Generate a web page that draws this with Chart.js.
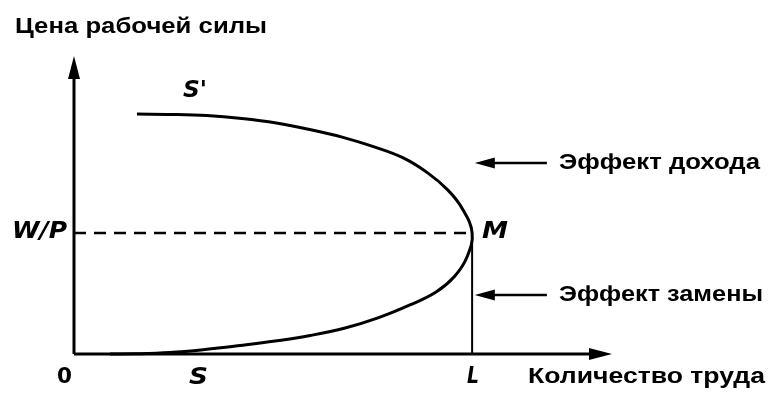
<!DOCTYPE html>
<html>
<head>
<meta charset="utf-8">
<script src="https://cdn.jsdelivr.net/npm/chart.js@4"></script>
<style>
  html, body { margin: 0; padding: 0; background: #fff; }
  #wrap { width: 769px; height: 396px; }
</style>
</head>
<body>
<div id="wrap"><canvas id="chart" width="769" height="396"></canvas></div>
<script>
// backward bending supply curve, S' (top) round through M down to S
var supplyX = [11.7, 18.2, 24.7, 31.2, 37.6, 43.9, 50.0, 55.8, 61.2, 65.8, 69.5, 72.1, 74.0,
               73.05, 70.8, 67.3, 62.45, 56.5, 50.4, 43.9, 37.4, 30.9, 24.35, 17.8, 11.3, 6.7];
var supplyY = [80.5, 80.4, 80.0, 79.0, 77.5, 75.3, 72.7, 69.5, 65.8, 60.7, 55.0, 49.0, 40.6,
               32.55, 26.2, 20.8, 16.45, 12.1, 8.7, 6.2, 4.35, 2.85, 1.5, 0.5, 0.07, 0];

// point M and the wage level W/P
var pointM = [74.0, 40.6];
// the two effect arrows: [tail x, tip x, y]
var incomeArrow = [87.9, 74.5, 64.1];
var substArrow = [87.9, 74.5, 19.8];

var axisMax = 100;

function pts(xs, ys) {
  var out = [];
  for (var i = 0; i < xs.length; i++) out.push({x: xs[i], y: ys[i]});
  return out;
}

function line(data, w, dash) {
  return {
    data: data,
    showLine: true,
    borderColor: "#000",
    borderWidth: w,
    borderDash: dash || [],
    pointRadius: 0,
    fill: false,
    clip: false
  };
}

// text squeezed/stretched to the width it has in the picture
function fitText(ctx, text, x, y, width, font) {
  ctx.save();
  ctx.font = font;
  ctx.textBaseline = "alphabetic";
  ctx.textAlign = "left";
  var w = ctx.measureText(text).width;
  ctx.translate(x, y);
  ctx.scale(width / w, 1);
  ctx.fillText(text, 0, 0);
  ctx.restore();
}

function head(ctx, tx, ty, dx, dy, len, half) {
  var bx = tx - dx * len, by = ty - dy * len;
  ctx.beginPath();
  ctx.moveTo(tx, ty);
  ctx.lineTo(bx - dy * half, by + dx * half);
  ctx.lineTo(bx + dy * half, by - dx * half);
  ctx.closePath();
  ctx.fill();
}

var labels = {
  id: "labels",
  afterDatasetsDraw: function(chart) {
    var ctx = chart.ctx;
    var xs = chart.scales.x, ys = chart.scales.y;
    ctx.fillStyle = "#000";

    // axis arrow heads
    head(ctx, xs.getPixelForValue(0), ys.getPixelForValue(axisMax), 0, -1, 23, 6);
    head(ctx, xs.getPixelForValue(axisMax), ys.getPixelForValue(0), 1, 0, 23, 6);
    // effect arrow heads
    head(ctx, xs.getPixelForValue(incomeArrow[1]), ys.getPixelForValue(incomeArrow[2]), -1, 0, 20, 5.5);
    head(ctx, xs.getPixelForValue(substArrow[1]), ys.getPixelForValue(substArrow[2]), -1, 0, 20, 5.5);

    var bold = "bold 22px 'Liberation Sans', Arial, sans-serif";
    var ital = "italic bold 23px 'DejaVu Sans', sans-serif";

    fitText(ctx, "Цена рабочей силы", 15, 33, 252, bold);
    fitText(ctx, "Количество труда", 528, 383, 237, bold);
    fitText(ctx, "Эффект дохода", 559, ys.getPixelForValue(incomeArrow[2]) + 6, 201, bold);
    fitText(ctx, "Эффект замены", 559, ys.getPixelForValue(substArrow[2]) + 6, 204, bold);

    var mx = xs.getPixelForValue(pointM[0]);
    var my = ys.getPixelForValue(pointM[1]);
    var y0 = ys.getPixelForValue(0);
    fitText(ctx, "W/P", 12, my + 5, 55, ital);
    fitText(ctx, "M", mx + 10, my + 5, 26, ital);
    fitText(ctx, "S'", 183, 97, 24, ital);
    fitText(ctx, "0", 57, y0 + 29, 15, "bold 22px 'DejaVu Sans', sans-serif");
    fitText(ctx, "S", 189, y0 + 30, 19, ital);
    fitText(ctx, "L", mx - 5, y0 + 29, 12, ital);
  }
};

var supply = line(pts(supplyX, supplyY), 3);
supply.tension = 0.4;

var ctx = document.getElementById("chart");
var chart = new Chart(ctx, {
  type: "scatter",
  data: {
    datasets: [
      supply,
      line([{x: 0, y: pointM[1]}, {x: pointM[0], y: pointM[1]}], 2.5, [12, 8]),
      line([{x: pointM[0], y: 0}, {x: pointM[0], y: pointM[1]}], 2),
      line([{x: 0, y: 0}, {x: axisMax - 2, y: 0}], 3),
      line([{x: 0, y: 0}, {x: 0, y: axisMax - 3}], 3),
      line([{x: incomeArrow[0], y: incomeArrow[2]}, {x: incomeArrow[1] + 2, y: incomeArrow[2]}], 2.5),
      line([{x: substArrow[0], y: substArrow[2]}, {x: substArrow[1] + 2, y: substArrow[2]}], 2.5)
    ]
  },
  options: {
    responsive: false,
    animation: false,
    layout: { padding: { left: 74, right: 157, top: 56, bottom: 42 } },
    plugins: { legend: { display: false }, tooltip: { enabled: false } },
    scales: {
      x: { type: "linear", min: 0, max: axisMax, display: false },
      y: { type: "linear", min: 0, max: axisMax, display: false }
    }
  },
  plugins: [labels]
});
</script>
</body>
</html>
